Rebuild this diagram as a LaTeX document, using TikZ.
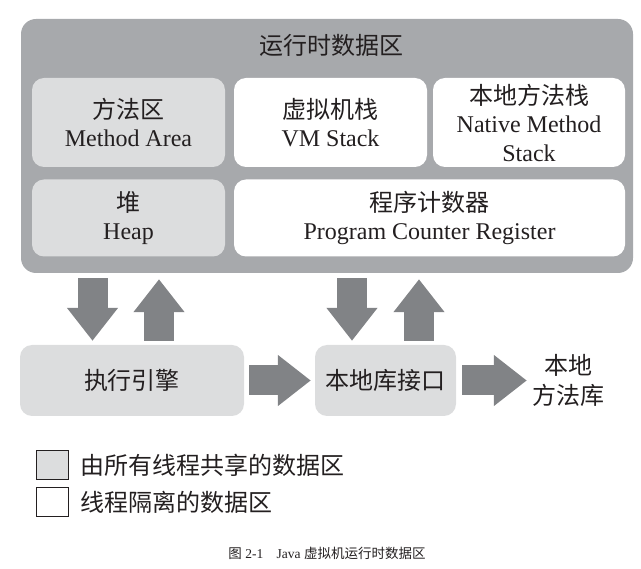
\documentclass[tikz,border=0pt]{standalone}
\usepackage{fontspec}
\setmainfont{Liberation Serif}
\newfontfamily\cjk{Noto Sans CJK SC}
\usetikzlibrary{arrows.meta,calc}
\definecolor{outergrey}{HTML}{A7A9AC}
\definecolor{lightgrey}{HTML}{DCDDDE}
\definecolor{arrowgrey}{HTML}{818386}
\definecolor{ink}{HTML}{231F20}
\tikzset{
  big/.style={font=\fontsize{24}{28.5}\selectfont, text=ink, align=center},
  area/.style={big, rounded corners=12pt, inner sep=0pt},
  shared/.style={area, fill=lightgrey},
  private/.style={area, fill=white},
  barrow/.style={arrowgrey, line width=30pt, -{Triangle[width=49pt,length=33pt]}},
  legendbox/.style={draw=ink, line width=0.9pt, minimum width=32pt, minimum height=29pt, inner sep=0pt},
}
\begin{document}
\begin{tikzpicture}[x=1pt,y=-1pt]
\useasboundingbox (0,0) rectangle (641,569);
% outer runtime data area
\node[fill=outergrey, rounded corners=15pt, minimum width=612pt, minimum height=254pt, inner sep=0pt] (rtda) at (327,146) {};
\node[big] (title) at (331,45) {\cjk 运行时数据区};
% inner areas
\node[shared, minimum width=193pt, minimum height=89pt] (ma) at (128.5,122.5) {{\cjk 方法区}\\Method Area};
\node[private, minimum width=193pt, minimum height=89pt] (vms) at (330.5,122.5) {{\cjk 虚拟机栈}\\VM Stack};
\node[private, minimum width=192pt, minimum height=89pt] (nms) at (529,122.5) {{\cjk 本地方法栈}\\Native Method\\Stack};
\node[shared, minimum width=193pt, minimum height=77pt] (heap) at (128.5,218) {{\cjk 堆}\\Heap};
\node[private, minimum width=391pt, minimum height=77pt] (pcr) at (429.5,218) {{\cjk 程序计数器}\\Program Counter Register};
% lower row
\node[shared, minimum width=224pt, minimum height=71pt] (exec) at (132,380.5) {\cjk 执行引擎};
\node[shared, minimum width=141pt, minimum height=71pt] (nli) at (385.5,380.5) {\cjk 本地库接口};
\node[big, inner sep=2pt, font=\fontsize{24}{30}\selectfont] (nml) at (568,380) {{\cjk 本地}\\{\cjk 方法库}};
% arrow positions
\coordinate (d1) at (92.5,0);
\coordinate (u1) at (159,0);
\coordinate (d2) at (352,0);
\coordinate (u2) at (419,0);
\draw[barrow, shorten <=5pt, shorten >=4pt] (rtda.south -| d1) -- (exec.north -| d1);
\draw[barrow, shorten <=4pt, shorten >=6pt] (exec.north -| u1) -- (rtda.south -| u1);
\draw[barrow, shorten <=5pt, shorten >=4pt] (rtda.south -| d2) -- (nli.north -| d2);
\draw[barrow, shorten <=4pt, shorten >=6pt] (nli.north -| u2) -- (rtda.south -| u2);
\draw[barrow, shorten <=5pt, shorten >=4pt] (exec.east) -- (nli.west);
\draw[barrow, shorten <=6pt, shorten >=3pt] (nli.east) -- (nli.east -| nml.west);
% legend
\node[legendbox, fill=lightgrey] (lg1) at (52,464.5) {};
\node[legendbox, fill=white] (lg2) at (52,502) {};
\node[big, anchor=west, inner sep=0pt] (lt1) at (80,465) {\cjk 由所有线程共享的数据区};
\node[big, anchor=west, inner sep=0pt] (lt2) at (80,502) {\cjk 线程隔离的数据区};
% caption
\node[text=ink, font=\fontsize{13.5}{15}\selectfont] (cap) at (327,553) {{\cjk 图} 2-1\quad Java {\cjk 虚拟机运行时数据区}};
\end{tikzpicture}
\end{document}
